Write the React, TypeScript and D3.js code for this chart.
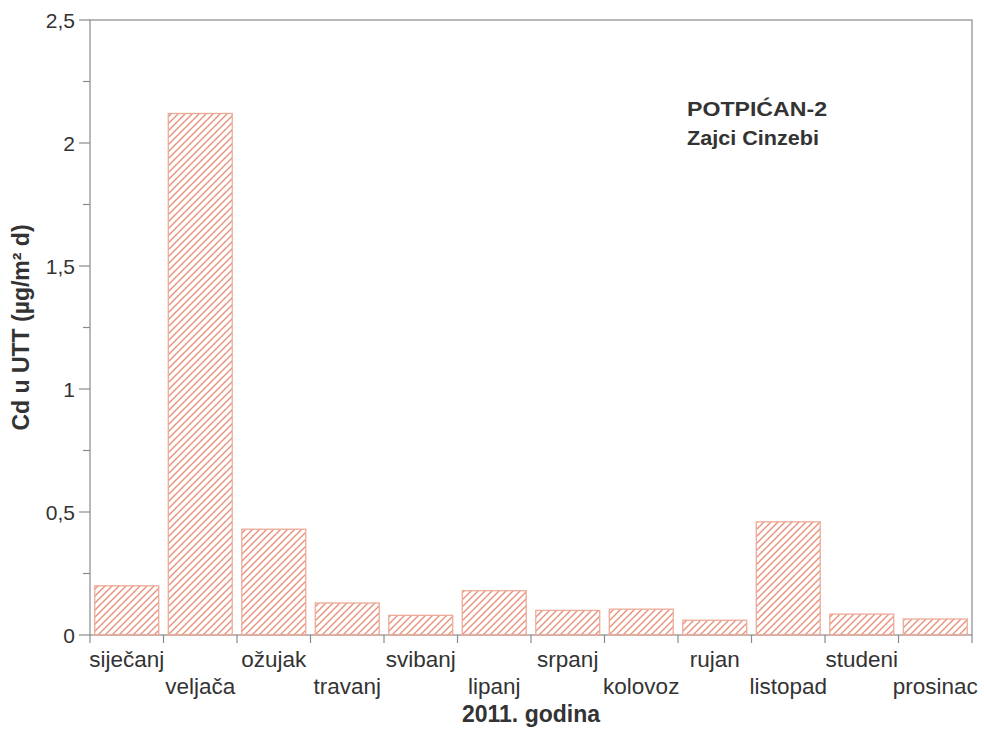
import React, { useEffect, useRef } from 'react';
import * as d3 from 'd3';

const months = [
  'siječanj', 'veljača', 'ožujak', 'travanj', 'svibanj', 'lipanj',
  'srpanj', 'kolovoz', 'rujan', 'listopad', 'studeni', 'prosinac',
];
const cdValues = [0.2, 2.12, 0.43, 0.13, 0.08, 0.18, 0.1, 0.105, 0.06, 0.46, 0.085, 0.065];
const majorTicks = [0, 0.5, 1, 1.5, 2, 2.5];
const minorTicks = [0.25, 0.75, 1.25, 1.75, 2.25];
const annotation = ['POTPIĆAN-2', 'Zajci Cinzebi'];
const annotationWidths = [140, 132];

const App = () => {
  const ref = useRef<SVGSVGElement>(null);

  useEffect(() => {
    drawChart();
  }, []);

  const drawChart = () => {
    const svg = d3.select(ref.current);
    svg.selectAll('*').remove();

    const margin = { top: 20, right: 12, bottom: 94, left: 90 };
    const width = 984 - margin.left - margin.right;
    const height = 729 - margin.top - margin.bottom;
    const axisColor = '#8a8a8a';
    const textColor = '#333';
    const hatch = '#e9907a';
    const font = 'Liberation Sans, Arial, sans-serif';

    const defs = svg.append('defs');
    const pat = defs.append('pattern')
      .attr('id', 'hatch')
      .attr('patternUnits', 'userSpaceOnUse')
      .attr('width', 7)
      .attr('height', 7);
    pat.append('path')
      .attr('d', 'M-1,1 l2,-2 M0,7 l7,-7 M6,8 l2,-2')
      .attr('stroke', hatch)
      .attr('stroke-width', 1.4);

    const g = svg.append('g').attr('transform', `translate(${margin.left},${margin.top})`);

    const x = d3.scaleBand()
      .domain(months)
      .range([0, width])
      .paddingInner(0.13)
      .paddingOuter(0.065);

    const y = d3.scaleLinear()
      .domain([0, 2.5])
      .range([height, 0]);

    // frame
    g.append('rect')
      .attr('x', 0).attr('y', 0)
      .attr('width', width).attr('height', height)
      .attr('fill', 'none')
      .attr('stroke', axisColor)
      .attr('stroke-width', 1.2);

    // bars
    g.append('g')
      .selectAll('rect')
      .data(cdValues)
      .enter()
      .append('rect')
      .attr('x', (d, i) => x(months[i]))
      .attr('y', d => y(d))
      .attr('width', x.bandwidth())
      .attr('height', d => height - y(d))
      .attr('fill', 'url(#hatch)')
      .attr('stroke', '#eeaa98')
      .attr('stroke-width', 1.3);

    // y axis ticks
    const yAxis = g.append('g');
    yAxis.selectAll('line.major')
      .data(majorTicks)
      .enter()
      .append('line')
      .attr('x1', -11).attr('x2', 0)
      .attr('y1', d => y(d)).attr('y2', d => y(d))
      .attr('stroke', axisColor)
      .attr('stroke-width', 1.2);
    yAxis.selectAll('line.minor')
      .data(minorTicks)
      .enter()
      .append('line')
      .attr('x1', -7).attr('x2', 0)
      .attr('y1', d => y(d)).attr('y2', d => y(d))
      .attr('stroke', axisColor)
      .attr('stroke-width', 1.2);
    yAxis.selectAll('text')
      .data(majorTicks)
      .enter()
      .append('text')
      .attr('x', -15)
      .attr('y', d => y(d))
      .attr('dy', '0.36em')
      .attr('text-anchor', 'end')
      .attr('font-family', font)
      .attr('font-size', 21)
      .attr('fill', textColor)
      .text(d => String(d).replace('.', ','));

    // x axis ticks at band boundaries
    const step = x.step();
    const boundaries = d3.range(months.length + 1).map(i => i * step);
    g.append('g')
      .selectAll('line')
      .data(boundaries)
      .enter()
      .append('line')
      .attr('x1', d => d).attr('x2', d => d)
      .attr('y1', height).attr('y2', height + 8)
      .attr('stroke', axisColor)
      .attr('stroke-width', 1.2);

    g.append('g')
      .selectAll('text')
      .data(months)
      .enter()
      .append('text')
      .attr('x', d => x(d) + x.bandwidth() / 2)
      .attr('y', (d, i) => height + (i % 2 === 0 ? 32 : 59))
      .attr('text-anchor', 'middle')
      .attr('font-family', font)
      .attr('font-size', 22.5)
      .attr('fill', textColor)
      .text(d => d);

    // axis titles
    g.append('text')
      .attr('x', width / 2)
      .attr('y', height + 87)
      .attr('text-anchor', 'middle')
      .attr('font-family', font)
      .attr('font-size', 23)
      .attr('font-weight', 'bold')
      .attr('fill', textColor)
      .text('2011. godina');

    g.append('text')
      .attr('transform', `translate(${-61},${height / 2}) rotate(-90)`)
      .attr('text-anchor', 'middle')
      .attr('font-family', font)
      .attr('font-size', 23)
      .attr('font-weight', 'bold')
      .attr('fill', textColor)
      .text('Cd u UTT (µg/m² d)');

    // annotation
    g.append('g')
      .selectAll('text')
      .data(annotation)
      .enter()
      .append('text')
      .attr('x', 597)
      .attr('y', (d, i) => 96 + i * 29)
      .attr('font-family', font)
      .attr('font-size', 21)
      .attr('font-weight', 'bold')
      .attr('fill', textColor)
      .attr('textLength', (d, i) => annotationWidths[i])
      .attr('lengthAdjust', 'spacingAndGlyphs')
      .text(d => d);
  };

  return (
    <svg
      ref={ref}
      width={984}
      height={729}
      style={{ position: 'absolute', left: 0, top: 0, background: '#fff' }}
    />
  );
};

export default App;
